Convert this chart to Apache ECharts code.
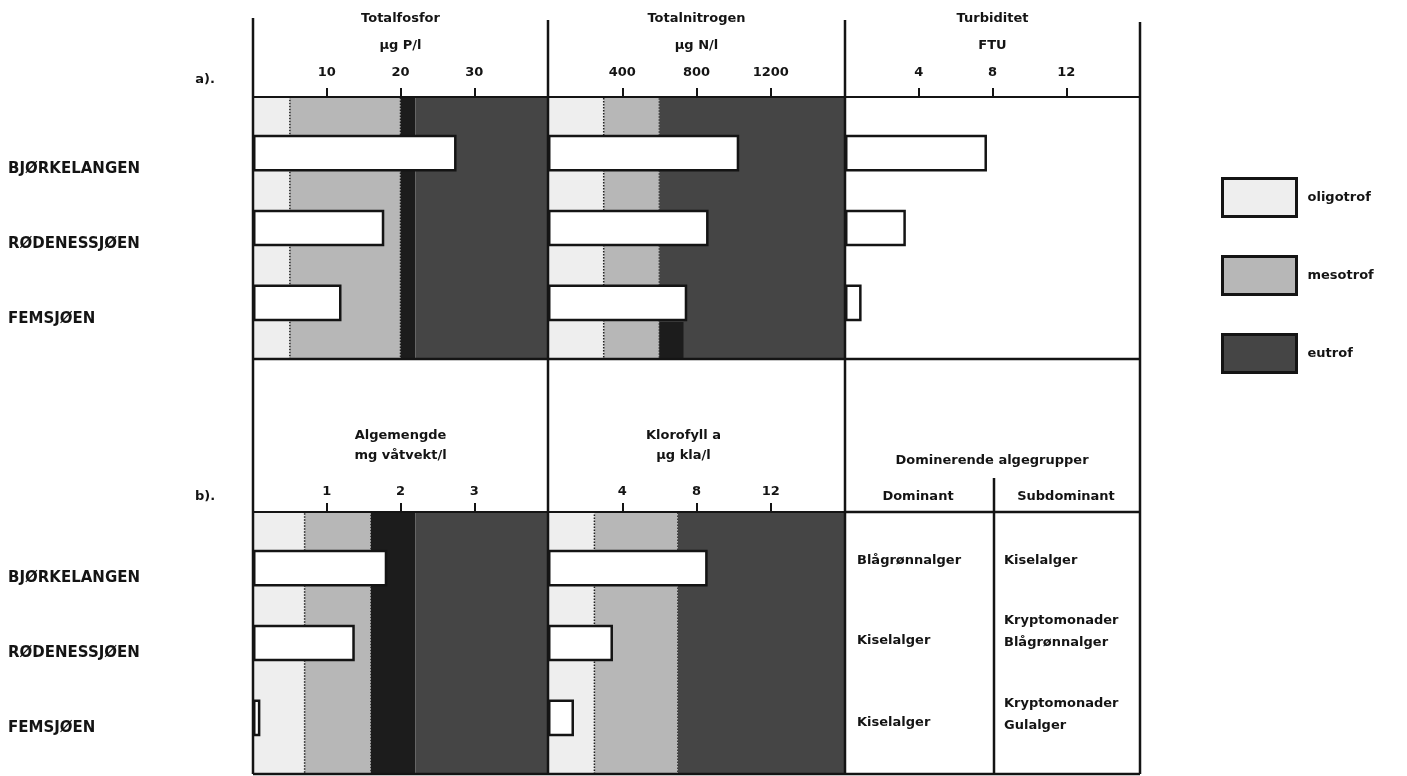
<!DOCTYPE html>
<html>
<head>
<meta charset="utf-8">
<script src="https://cdn.jsdelivr.net/npm/echarts@6/dist/echarts.min.js"></script>
<style>
  html, body { margin: 0; padding: 0; background: #fff; }
  #chart { width: 1407px; height: 776px; }
</style>
</head>
<body>
<div id="chart"></div>
<script>
var chartDom = document.getElementById('chart');
var myChart = echarts.init(chartDom);

// data
var lakes = ['BJØRKELANGEN', 'RØDENESSJØEN', 'FEMSJØEN'];
var totalfosfor = [27.6, 17.8, 12.0];
var totalnitrogen = [1030, 865, 750];
var turbiditet = [7.7, 3.3, 0.9];
var algemengde = [1.82, 1.38, 0.1];
var klorofyll = [8.6, 3.5, 1.4];
var dominant = ['Blågrønnalger', 'Kiselalger', 'Kiselalger'];
var subdominant = ['Kiselalger', 'Kryptomonader\nBlågrønnalger', 'Kryptomonader\nGulalger'];

// class limits: oligotrof | mesotrof | overgang | eutrof
var tpClass = [0, 5, 20, 22, 40];
var tnClass = [0, 300, 600, 600, 1600];
var algClass = [0, 0.7, 1.6, 2.2, 4];
var klaClass = [0, 2.5, 7, 7, 16];
var tnOvergangBunn = [600, 730];

var classNames = ['oligotrof', 'mesotrof', 'eutrof'];

var ink = '#141414';
var font = 'DejaVu Sans';
var bandColor = { oligotrof: '#eeeeee', mesotrof: '#b7b7b7', overgang: '#1c1c1c', eutrof: '#454545' };

// 7 strips: gap, lake, gap, lake, gap, lake, gap
var rows = ['g0', lakes[0], 'g1', lakes[1], 'g2', lakes[2], 'g3'];
function rowData(vals) {
    return rows.map(function (r, i) { return i % 2 ? vals[(i - 1) / 2] : '-'; });
}

var panels = [
    { box: { left: 253, top: 97, width: 295, height: 262 }, max: 40, interval: 10, name: 'Totalfosfor\nµg P/l', values: totalfosfor, cls: tpClass, part: 'a' },
    { box: { left: 548, top: 97, width: 297, height: 262 }, max: 1600, interval: 400, name: 'Totalnitrogen\nµg N/l', values: totalnitrogen, cls: tnClass, part: 'a' },
    { box: { left: 845, top: 97, width: 295, height: 262 }, max: 16, interval: 4, name: 'Turbiditet\nFTU', values: turbiditet, cls: null, part: 'a' },
    { box: { left: 253, top: 512, width: 295, height: 262 }, max: 4, interval: 1, name: 'Algemengde\nmg våtvekt/l', values: algemengde, cls: algClass, part: 'b' },
    { box: { left: 548, top: 512, width: 297, height: 262 }, max: 16, interval: 4, name: 'Klorofyll a\nµg kla/l', values: klorofyll, cls: klaClass, part: 'b', namePad: [0, 26, 0, 0] }
];

var grid = [], xAxis = [], yAxis = [], series = [];

panels.forEach(function (p, g) {
    var isA = p.part === 'a';
    grid.push(Object.assign({ show: false }, p.box));
    xAxis.push({
        gridIndex: g, type: 'value', position: 'top', min: 0, max: p.max, interval: p.interval, z: 10,
        name: p.name, nameLocation: 'middle', nameGap: isA ? 38 : 46,
        nameTextStyle: { fontFamily: font, fontWeight: 'bold', fontSize: 13, color: ink, lineHeight: isA ? 27 : 20, padding: p.namePad || 0 },
        axisLine: { show: true, lineStyle: { color: ink, width: 2 } },
        axisTick: { show: true, length: 9, lineStyle: { color: ink, width: 2 } },
        axisLabel: {
            showMinLabel: false, showMaxLabel: false, margin: isA ? 18 : 14,
            fontFamily: font, fontWeight: 'bold', fontSize: 13, color: ink,
            formatter: function (v) { return String(v); }
        },
        splitLine: { show: false }
    });
    var showLakes = g === 0 || g === 3;
    yAxis.push({
        gridIndex: g, type: 'category', inverse: true, data: rows,
        axisLine: { show: false }, axisTick: { show: false }, splitLine: { show: false },
        axisLabel: {
            show: showLakes, interval: 0, align: 'left', margin: 245,
            verticalAlign: 'top', lineHeight: isA ? 32 : 20,
            fontFamily: font, fontWeight: 'bold', fontSize: 15, color: ink,
            formatter: function (v, i) { return i % 2 ? v : ''; }
        }
    });

    if (p.cls) {
        var c = p.cls;
        var bands = [
            ['oligotrof', c[0], c[1], {}],
            ['mesotrof', c[1], c[2], { borderColor: '#222', borderWidth: 1.5, borderType: 'dotted' }],
            ['overgang', c[2], c[3], {}],
            ['eutrof', c[3], c[4], {}]
        ];
        bands.forEach(function (b) {
            series.push({
                name: b[0], type: 'line', xAxisIndex: g, yAxisIndex: g, data: [],
                color: bandColor[b[0]], showSymbol: false,
                markArea: {
                    silent: true,
                    itemStyle: Object.assign({ color: bandColor[b[0]] }, b[3]),
                    data: b[2] > b[1] ? [[{ xAxis: b[1] }, { xAxis: b[2] }]] : []
                }
            });
        });
    }

    var stack = g === 1 ? 'tn' : undefined;
    if (g === 1) {
        series.push({
            type: 'bar', xAxisIndex: g, yAxisIndex: g, stack: stack, barWidth: '98%', silent: true,
            itemStyle: { color: 'transparent' },
            data: rows.map(function (r, i) { return i === 6 ? tnOvergangBunn[0] : '-'; })
        });
        series.push({
            type: 'bar', xAxisIndex: g, yAxisIndex: g, stack: stack, barWidth: '98%', silent: true,
            itemStyle: { color: bandColor.overgang },
            data: rows.map(function (r, i) { return i === 6 ? tnOvergangBunn[1] - tnOvergangBunn[0] : '-'; })
        });
    }
    series.push({
        name: p.name.split('\n')[0], type: 'bar', xAxisIndex: g, yAxisIndex: g, stack: stack,
        barWidth: '98%', z: 5,
        itemStyle: { color: '#ffffff', borderColor: ink, borderWidth: 2.5 },
        data: rowData(p.values)
    });
});

// frame, table and panel letters
var graphic = [];
function line(x1, y1, x2, y2, w) {
    graphic.push({ type: 'line', z: 100, shape: { x1: x1, y1: y1, x2: x2, y2: y2 }, style: { stroke: ink, lineWidth: w || 2.5 } });
}
function text(t, x, y, align, size) {
    graphic.push({ type: 'text', z: 100, x: x, y: y, style: { text: t, fill: ink, font: 'bold ' + (size || 13) + 'px "' + font + '"', textAlign: align || 'left', textVerticalAlign: 'middle', lineHeight: 22 } });
}
[[253, 18], [548, 20], [845, 20], [1140, 22]].forEach(function (v) { line(v[0], v[1], v[0], 774); });
line(253, 359, 1140, 359, 2.5);
line(253, 774, 1140, 774, 2.5);
line(845, 512, 1140, 512, 2.5);
line(994, 478, 994, 774, 2.5);

text('a).', 205, 80, 'center');
text('b).', 205, 497, 'center');
text('Dominerende algegrupper', 992, 461, 'center');
text('Dominant', 918, 497, 'center');
text('Subdominant', 1066, 497, 'center');
var domY = [561, 641, 723];
var subY = [561, 632, 715];
dominant.forEach(function (d, i) { text(d, 857, domY[i], 'left'); });
subdominant.forEach(function (d, i) { text(d, 1004, subY[i], 'left'); });

var option = {
    animation: false,
    backgroundColor: '#ffffff',
    grid: grid,
    xAxis: xAxis,
    yAxis: yAxis,
    legend: {
        orient: 'vertical', left: 1216, top: 172, itemWidth: 74, itemHeight: 38, itemGap: 37,
        icon: 'rect', selectedMode: false,
        textStyle: { fontFamily: font, fontWeight: 'bold', fontSize: 13, color: ink, padding: [0, 0, 0, 6] },
        data: classNames.map(function (n) {
            return { name: n, itemStyle: { color: bandColor[n], borderColor: ink, borderWidth: 3 } };
        })
    },
    graphic: graphic,
    series: series
};

myChart.setOption(option);
</script>
</body>
</html>
